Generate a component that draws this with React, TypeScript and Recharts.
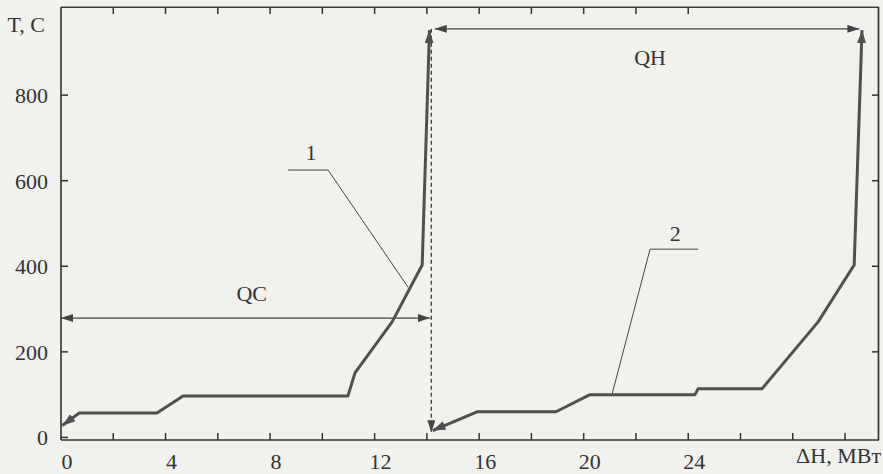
import React from 'react';
import { LineChart, Line, XAxis, YAxis, ReferenceDot, ReferenceLine } from 'recharts';

// Composite curves (x: ΔH, MW; y: T, °C)
const curve1X = [0.05, 0.7, 3.67, 4.67, 10.98, 11.25, 12.67, 13.82, 14.1];
const curve1Y = [28, 57, 57, 97, 97, 151, 270, 403, 952];
const curve2X = [14.22, 15.92, 18.94, 20.24, 24.26, 24.38, 26.83, 28.97, 30.35, 30.65];
const curve2Y = [16, 60, 60, 100, 100, 114, 114, 270, 403, 952];

// dimension arrows and guides
const qcX = [0, 14.12];
const qcY = [279, 279];
const qhX = [14.3, 30.55];
const qhY = [955, 955];
const dashX = [14.17, 14.17];
const dashY = [955, 12];
const leader1X = [8.69, 10.22, 13.28];
const leader1Y = [625, 625, 351];
const leader2X = [24.38, 22.54, 21.09];
const leader2Y = [440, 440, 102];

// text labels
const labelNames = ['1', '2', 'QC', 'QH'];
const labelX = [9.57, 23.5, 7.3, 22.54];
const labelY = [667, 478, 338, 888];

// axes
const X_MIN = 0;
const X_MAX = 31.3;
const Y_MIN = -6;
const Y_MAX = 1006;
const xTicks = [0, 2, 4, 6, 8, 10, 12, 14, 16, 18, 20, 22, 24, 26, 28, 30];
const xTickLabels = [0, 4, 8, 12, 16, 20, 24];
const topTicks = [2, 4, 6, 8, 10, 12, 14, 16, 18, 20, 22, 24];
const yTicks = [0, 200, 400, 600, 800];

const toPts = (xs: number[], ys: number[]) => xs.map((x, i) => ({ x, y: ys[i] }));

// layout (pixels)
const W = 883;
const H = 474;
const M = { top: 7, right: 4, bottom: 0, left: 0 };
const Y_AXIS_W = 61;
const X_AXIS_H = 34;
const PLOT_W = W - M.left - M.right - Y_AXIS_W;
const PLOT_H = H - M.top - M.bottom - X_AXIS_H;
const TICK_PX = 7;
const tickDX = (TICK_PX * (X_MAX - X_MIN)) / PLOT_W;
const tickDY = (TICK_PX * (Y_MAX - Y_MIN)) / PLOT_H;

const FONT = '"Liberation Serif", "Times New Roman", serif';
const INK = '#333333';
const CURVE = '#505050';
const XM = 13;
const YM = 13;

const XTick = (props: any) => {
  const { x, y, payload } = props;
  if (!xTickLabels.includes(payload.value)) return <g />;
  return (
    <text x={x + 6} y={y} dy="0.71em" textAnchor="middle" fontSize={22} fontFamily={FONT} fill="#333">
      {payload.value}
    </text>
  );
};

const YTick = (props: any) => {
  const { x, y, payload } = props;
  return (
    <text x={x} y={y} dy="0.355em" textAnchor="end" fontSize={22} fontFamily={FONT} fill="#333">
      {payload.value}
    </text>
  );
};

const textLabel = (txt: string) => (props: any) => {
  const vb = props.viewBox || {};
  return (
    <text
      x={vb.x + (vb.width || 0) / 2}
      y={vb.y + (vb.height || 0) / 2}
      dy="0.355em"
      textAnchor="middle"
      fontSize={22}
      fontFamily={FONT}
      fill="#333"
    >
      {txt}
    </text>
  );
};

const common = { dataKey: 'y', type: 'linear' as const, dot: false, activeDot: false, isAnimationActive: false, xAxisId: 'b', yAxisId: 'l' };
const refCommon = { xAxisId: 'b', yAxisId: 'l', stroke: INK, strokeWidth: 1.5, ifOverflow: 'visible' as const };

export default function App() {
  return (
    <div style={{ position: 'fixed', left: 0, top: 0, width: W, height: H, background: '#f1f1ee' }}>
      <svg width={0} height={0} style={{ position: 'absolute' }}>
        <defs>
          <marker id="arrThin" viewBox="0 0 12 8" refX={12} refY={4} markerWidth={12} markerHeight={8}
            markerUnits="userSpaceOnUse" orient="auto-start-reverse">
            <path d="M0,0 L12,4 L0,8 Z" fill="#444" />
          </marker>
          <marker id="arrThick" viewBox="0 0 13 9" refX={13} refY={4.5} markerWidth={13} markerHeight={9}
            markerUnits="userSpaceOnUse" orient="auto-start-reverse">
            <path d="M0,0 L13,4.5 L0,9 Z" fill="#505050" />
          </marker>
        </defs>
      </svg>
      <LineChart width={W} height={H} margin={M}>
        <XAxis
          xAxisId="b"
          type="number"
          dataKey="x"
          domain={[X_MIN, X_MAX]}
          ticks={xTicks}
          interval={0}
          height={X_AXIS_H}
          tickSize={0}
          tickMargin={XM}
          tick={XTick}
          tickLine={false}
          axisLine={{ stroke: INK, strokeWidth: 1.6 }}
          label={{
            content: (p: any) => (
              <text x={p.viewBox.x + p.viewBox.width + 2} y={p.viewBox.y + 23} textAnchor="end"
                fontSize={22} fontFamily={FONT} fill="#333">
                ΔH, МВт
              </text>
            ),
          }}
        />
        <YAxis
          yAxisId="l"
          type="number"
          dataKey="y"
          domain={[Y_MIN, Y_MAX]}
          ticks={yTicks}
          interval={0}
          width={Y_AXIS_W}
          tickSize={0}
          tickMargin={YM}
          tick={YTick}
          tickLine={false}
          axisLine={{ stroke: INK, strokeWidth: 1.6 }}
          label={{
            content: () => (
              <text x={45} y={32} textAnchor="end" fontSize={22} fontFamily={FONT} fill="#333">
                T, C
              </text>
            ),
          }}
        />

        {/* frame: top edge and right edge */}
        <Line {...common} data={[{ x: X_MIN, y: Y_MAX - 0.5 }, { x: X_MAX - 0.01, y: Y_MAX - 0.5 }]}
          stroke="#3c3c3c" strokeWidth={1.6} />
        <Line {...common} data={[{ x: X_MAX - 0.02, y: Y_MAX }, { x: X_MAX - 0.02, y: Y_MIN }]}
          stroke="#333333" strokeWidth={1.7} />

        {/* inward ticks */}
        {xTicks.slice(1).map((t) => (
          <ReferenceLine key={'b' + t} {...refCommon} segment={[{ x: t, y: Y_MIN }, { x: t, y: Y_MIN + tickDY }]} />
        ))}
        {topTicks.map((t) => (
          <ReferenceLine key={'t' + t} {...refCommon} segment={[{ x: t, y: Y_MAX }, { x: t, y: Y_MAX - tickDY }]} />
        ))}
        {yTicks.map((t) => (
          <ReferenceLine key={'l' + t} {...refCommon} segment={[{ x: X_MIN, y: t }, { x: X_MIN + tickDX, y: t }]} />
        ))}
        {yTicks.slice(1).map((t) => (
          <ReferenceLine key={'r' + t} {...refCommon} segment={[{ x: X_MAX, y: t }, { x: X_MAX - tickDX, y: t }]} />
        ))}

        <Line {...common} data={toPts(dashX, dashY)} stroke="#444"
          strokeWidth={1.4} strokeDasharray="4 3" markerEnd="url(#arrThin)" />
        <Line {...common} data={toPts(qcX, qcY)} stroke="#444"
          strokeWidth={1.2} markerStart="url(#arrThin)" markerEnd="url(#arrThin)" />
        <Line {...common} data={toPts(qhX, qhY)} stroke="#444"
          strokeWidth={1.2} markerStart="url(#arrThin)" markerEnd="url(#arrThin)" />
        <Line {...common} data={toPts(leader1X, leader1Y)} stroke="#444" strokeWidth={1} />
        <Line {...common} data={toPts(leader2X, leader2Y)} stroke="#444" strokeWidth={1} />
        <Line {...common} data={toPts(curve1X, curve1Y)} stroke={CURVE}
          strokeWidth={3} strokeLinejoin="round" markerStart="url(#arrThick)" markerEnd="url(#arrThick)" />
        <Line {...common} data={toPts(curve2X, curve2Y)} stroke={CURVE}
          strokeWidth={3} strokeLinejoin="round" markerStart="url(#arrThick)" markerEnd="url(#arrThick)" />

        {labelNames.map((n, i) => (
          <ReferenceDot key={n} xAxisId="b" yAxisId="l" x={labelX[i]} y={labelY[i]} r={0}
            fill="none" stroke="none" label={{ content: textLabel(n) }} />
        ))}
      </LineChart>
    </div>
  );
}
